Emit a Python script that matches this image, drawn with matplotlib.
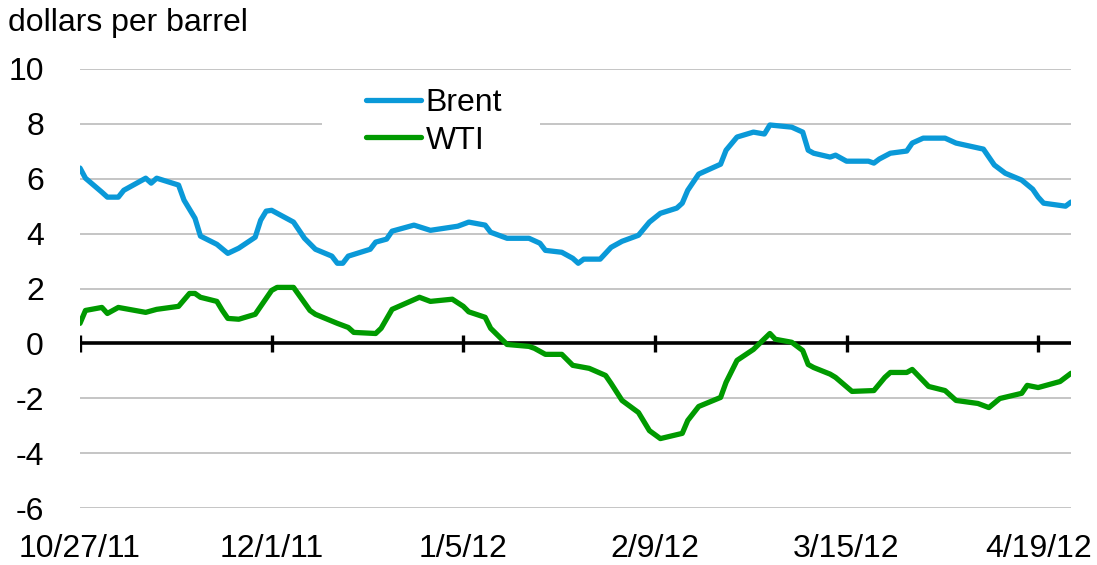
import numpy as np
import pandas as pd
import matplotlib
matplotlib.use('Agg')
import matplotlib.pyplot as plt
import matplotlib.dates as mdates
from matplotlib.patches import Rectangle

plt.rcParams['font.family'] = ['Liberation Sans', 'DejaVu Sans']

# Data: days after 10/27/11, spread in dollars per barrel
start = pd.Timestamp('2011-10-27')

brent_days = [0, 1, 4, 5, 7, 8, 12, 13, 14, 18, 19, 21, 22, 25, 27, 29, 32, 33, 34, 35,
              39, 41, 43, 46, 47, 48, 49, 53, 54, 56, 57, 61, 64, 69, 71, 74, 75, 78, 82, 84,
              85, 88, 90, 91, 92, 95, 97, 99, 102, 104, 106, 109, 110, 111, 113, 117, 118, 120, 123, 125,
              126, 130, 132, 133, 134, 137, 138, 140, 144, 145, 146, 148, 151, 152, 154, 158, 160, 165, 167, 169,
              172, 174, 175, 176, 180, 181]
brent_vals = [6.39, 6.02, 5.51, 5.33, 5.33, 5.58, 6.02, 5.84, 6.02, 5.77, 5.22, 4.56, 3.91, 3.61, 3.28, 3.47, 3.87, 4.49, 4.82, 4.85,
              4.42, 3.83, 3.43, 3.18, 2.92, 2.92, 3.18, 3.43, 3.69, 3.80, 4.09, 4.31, 4.12, 4.27, 4.42, 4.31, 4.05, 3.83, 3.83, 3.65,
              3.39, 3.32, 3.10, 2.92, 3.07, 3.07, 3.50, 3.72, 3.94, 4.42, 4.74, 4.93, 5.11, 5.58, 6.17, 6.53, 7.04, 7.52, 7.70, 7.63,
              7.96, 7.88, 7.70, 7.04, 6.93, 6.79, 6.86, 6.64, 6.64, 6.57, 6.72, 6.93, 7.01, 7.30, 7.48, 7.48, 7.30, 7.08, 6.50, 6.20,
              5.95, 5.62, 5.33, 5.11, 5.00, 5.15]

wti_days = [0, 1, 4, 5, 7, 12, 14, 18, 20, 21, 22, 25, 26, 27, 29, 32, 35, 36, 39, 42,
            43, 47, 49, 50, 54, 55, 57, 62, 64, 68, 70, 71, 74, 75, 78, 82, 83, 85, 88, 90,
            93, 96, 97, 99, 102, 104, 106, 110, 111, 113, 117, 118, 120, 123, 126, 127, 130, 132, 133, 134,
            137, 138, 141, 145, 147, 148, 151, 152, 155, 158, 160, 164, 166, 168, 172, 173, 175, 179, 181]
wti_vals = [0.73, 1.20, 1.31, 1.09, 1.31, 1.13, 1.24, 1.35, 1.82, 1.82, 1.68, 1.53, 1.20, 0.91, 0.88, 1.06, 1.93, 2.04, 2.04, 1.20,
            1.06, 0.73, 0.58, 0.40, 0.36, 0.55, 1.24, 1.68, 1.53, 1.61, 1.35, 1.15, 0.95, 0.55, -0.04, -0.11, -0.18, -0.40, -0.40, -0.80,
            -0.91, -1.17, -1.46, -2.08, -2.52, -3.18, -3.47, -3.28, -2.81, -2.30, -1.97, -1.42, -0.62, -0.22, 0.36, 0.15, 0.04, -0.26, -0.77, -0.88,
            -1.12, -1.24, -1.75, -1.72, -1.24, -1.06, -1.06, -0.95, -1.57, -1.72, -2.08, -2.19, -2.34, -2.01, -1.82, -1.53, -1.61, -1.39, -1.09]

tick_dates = ['2011-10-27', '2011-12-01', '2012-01-05', '2012-02-09', '2012-03-15', '2012-04-19']
tick_labels = ['10/27/11', '12/1/11', '1/5/12', '2/9/12', '3/15/12', '4/19/12']
y_ticks = [-6, -4, -2, 0, 2, 4, 6, 8, 10]

brent_x = start + pd.to_timedelta(brent_days, unit='D')
wti_x = start + pd.to_timedelta(wti_days, unit='D')
ticks_x = pd.to_datetime(tick_dates)

fig = plt.figure(figsize=(10.97, 5.65), dpi=100)
ax = fig.add_axes([80 / 1097, 1 - 508 / 565, 991 / 1097, 439 / 565])

ax.set_ylim(-6, 10)
ax.set_xlim(start, start + pd.Timedelta(days=181))

# gridlines
for y in y_ticks:
    if y != 0:
        ax.axhline(y, color='#c0c0c0', lw=1.3, zorder=1)

# white box behind the legend
ax.add_patch(Rectangle((0.244, 0.80), 0.22, 0.16, transform=ax.transAxes,
                       facecolor='white', edgecolor='none', zorder=2))

# zero axis with tick marks
ax.axhline(0, color='black', lw=2.6, zorder=3)
ax.vlines(ticks_x, -0.3, 0.3, color='black', lw=2.4, zorder=3)

ax.plot(brent_x, brent_vals, color='#0a99d8', lw=3.8, label='Brent', zorder=4,
        solid_joinstyle='round', solid_capstyle='round')
ax.plot(wti_x, wti_vals, color='#009a00', lw=3.8, label='WTI', zorder=4,
        solid_joinstyle='round', solid_capstyle='round')

ax.set_yticks(y_ticks)
ax.set_yticklabels([str(v) for v in y_ticks])
ax.set_xticks(ticks_x)
ax.set_xticklabels(tick_labels)
ax.tick_params(axis='both', length=0, labelsize=23)
ax.tick_params(axis='y', pad=26)
ax.tick_params(axis='x', pad=19)
for s in ax.spines.values():
    s.set_visible(False)

leg = ax.legend(loc='center left', bbox_to_anchor=(0.289, 0.88), frameon=False,
                fontsize=23, borderpad=0, borderaxespad=0, handlelength=1.7,
                handletextpad=0.15, labelspacing=0.25)

fig.text(8 / 1097, 1 - 23 / 565, 'dollars per barrel', fontsize=23, va='center', ha='left')

fig.savefig('out.png', dpi=100)
